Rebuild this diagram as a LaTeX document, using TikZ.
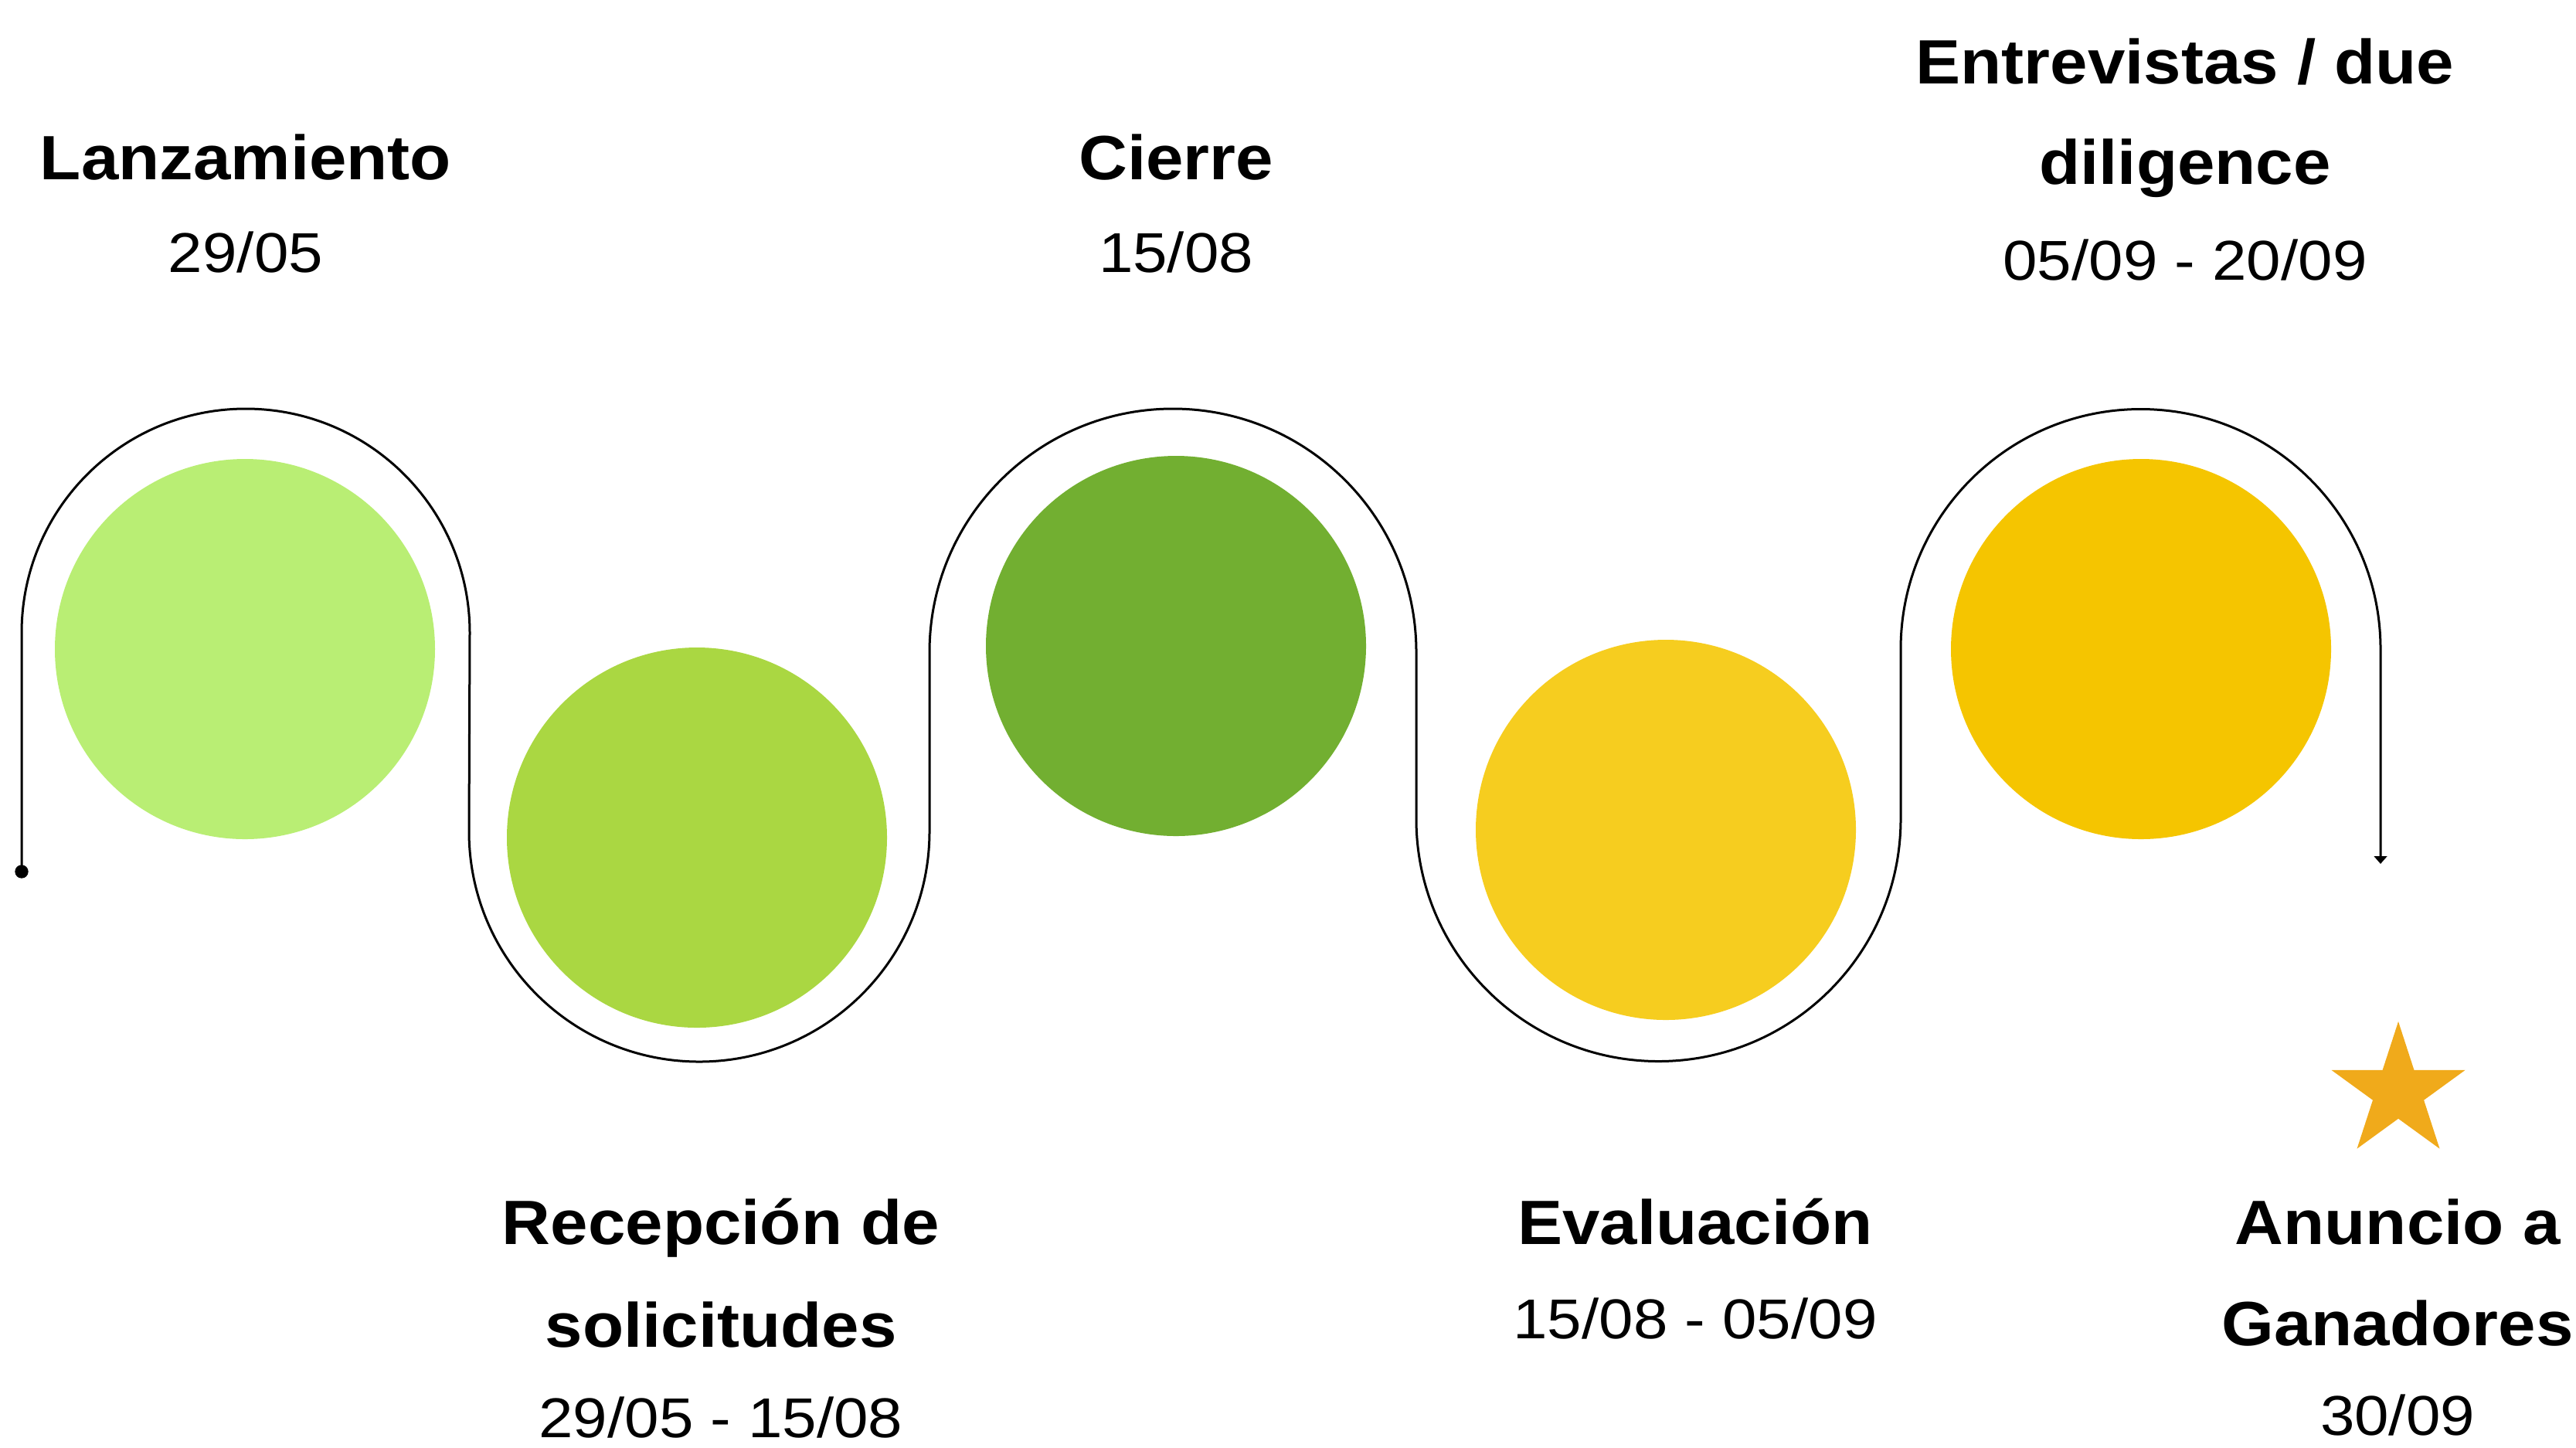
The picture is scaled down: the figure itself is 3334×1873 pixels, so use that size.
\documentclass[tikz,border=0pt]{standalone}
\usepackage{fontspec}
\usetikzlibrary{arrows.meta,shapes.geometric}
\newfontfamily\titlefont[FakeStretch=1.075]{Liberation Sans}
\newfontfamily\datefont[FakeStretch=1.10]{Liberation Sans}
\definecolor{cA}{HTML}{B9EE74}
\definecolor{cB}{HTML}{AAD742}
\definecolor{cC}{HTML}{72AF31}
\definecolor{cD}{HTML}{F6CD1F}
\definecolor{cE}{HTML}{F5C500}
\definecolor{starcol}{HTML}{F0AA1B}
\tikzset{
  dotc/.style={circle, fill=#1, minimum size=147.6pt, inner sep=0pt},
  ttl/.style={anchor=base, inner sep=0pt, font=\titlefont\bfseries\fontsize{24.3}{24.3}\selectfont},
  dte/.style={anchor=base, inner sep=0pt, font=\datefont\fontsize{21.8}{21.8}\selectfont},
  pathline/.style={line width=0.9pt, black}
}
\begin{document}
\begin{tikzpicture}[x=0.3pt,y=-0.3pt]
\useasboundingbox (0,0) rectangle (3334,1873);
% circles
\node[dotc=cA] (c1) at (317,840) {};
\node[dotc=cB] (c2) at (902,1084) {};
\node[dotc=cC] (c3) at (1522,836) {};
\node[dotc=cD] (c4) at (2156,1074) {};
\node[dotc=cE] (c5) at (2771,840) {};
% path
\node[circle, fill=black, minimum size=5.2pt, inner sep=0pt] (startdot) at (28,1128) {};
\coordinate (pend) at (3081,1118);
\draw[pathline, -{Triangle[width=5pt,length=3pt]}] (startdot.center) -- (28,819)
  arc[start angle=180,end angle=360,radius=290] -- (607,1076)
  arc[start angle=180,end angle=0,radius=298] -- (1203,844)
  arc[start angle=180,end angle=360,radius=315] -- (1833,1060)
  arc[start angle=180,end angle=0,radius=313.5] -- (2460,840)
  arc[start angle=180,end angle=360,radius=310.5] -- (pend);
% star
\node[star, star points=5, star point ratio=2.618, fill=starcol, minimum size=54.6pt, inner sep=0pt] (star1) at (3104,1413) {};
% texts
\node[ttl] (t1) at (318,232) {Lanzamiento};
\node[dte] (d1) at (318,352) {29/05};
\node[ttl] (t2a) at (933,1610) {Recepción de};
\node[ttl] (t2b) at (933,1743) {solicitudes};
\node[dte] (d2) at (933,1860) {29/05 - 15/08};
\node[ttl] (t3) at (1522,232) {Cierre};
\node[dte] (d3) at (1522,352) {15/08};
\node[ttl] (t4) at (2194,1610) {Evaluación};
\node[dte] (d4) at (2194,1732) {15/08 - 05/09};
\node[ttl] (t5a) at (2828,108) {Entrevistas / due};
\node[ttl] (t5b) at (2828,238) {diligence};
\node[dte] (d5) at (2828,362) {05/09 - 20/09};
\node[ttl] (t6a) at (3103,1610) {Anuncio a};
\node[ttl] (t6b) at (3103,1741) {Ganadores};
\node[dte] (d6) at (3103,1857) {30/09};
\end{tikzpicture}
\end{document}
